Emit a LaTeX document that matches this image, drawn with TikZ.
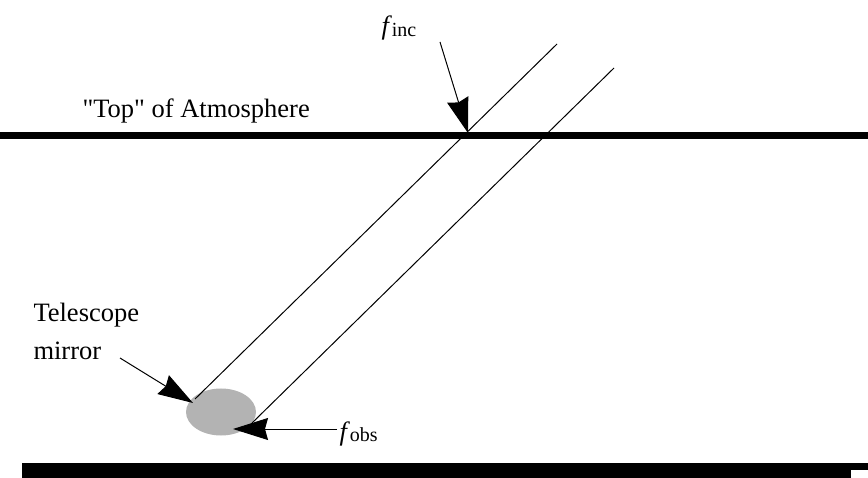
\documentclass[tikz,border=0pt]{standalone}
\usepackage{fontspec}
\setmainfont{Liberation Serif}[Ligatures=TeXOff]
\usetikzlibrary{arrows.meta,shapes.geometric}

\begin{document}
\begin{tikzpicture}[x=1pt,y=-1pt,line width=1pt,
  >={Stealth[length=35pt,width=22pt,inset=3pt]},
  font=\fontsize{26.5}{30}\selectfont]
\useasboundingbox (0,0) rectangle (868,478);
% atmosphere and ground
\fill (0,132) rectangle (868,139);
\fill (22,463) rectangle (868,470);
\fill (22,470) rectangle (851,478);
% mirror
\node[ellipse,fill={rgb,255:red,179;green,179;blue,179},minimum width=70pt,minimum height=47pt,inner sep=0pt] (mirror) at (221,412) {};
% beam
\coordinate (a1) at (195,399);
\coordinate (a2) at (557,44);
\coordinate (b1) at (252,423);
\coordinate (b2) at (614,68);
\draw (a1) -- (a2);
\draw (b1) -- (b2);
% labels
\node[anchor=base west,inner sep=0pt] (top) at (82,118) {"Top" of Atmosphere};
\node[anchor=base west,inner sep=0pt] (tel) at (33,322) {Telescope};
\node[anchor=base west,inner sep=0pt] (mir) at (33,360) {mirror};
\node[anchor=base west,inner sep=0pt] (finc) at (381,35) {\textit{f}\raisebox{-0.15ex}{\fontsize{20}{20}\selectfont inc}};
\node[anchor=base west,inner sep=0pt] (fobs) at (339,440) {\textit{f}\raisebox{-0.15ex}{\fontsize{20}{20}\selectfont obs}};
% pointers
\coordinate (incfrom) at (440,42);
\coordinate (incto) at (468,133);
\coordinate (mirfrom) at (120,358);
\coordinate (mirto) at (193,403);
\coordinate (obsfrom) at (337,429);
\coordinate (obsto) at (233,429);
\draw[->] (incfrom) -- (incto);
\draw[->] (mirfrom) -- (mirto);
\draw[->] (obsfrom) -- (obsto);
\end{tikzpicture}
\end{document}
